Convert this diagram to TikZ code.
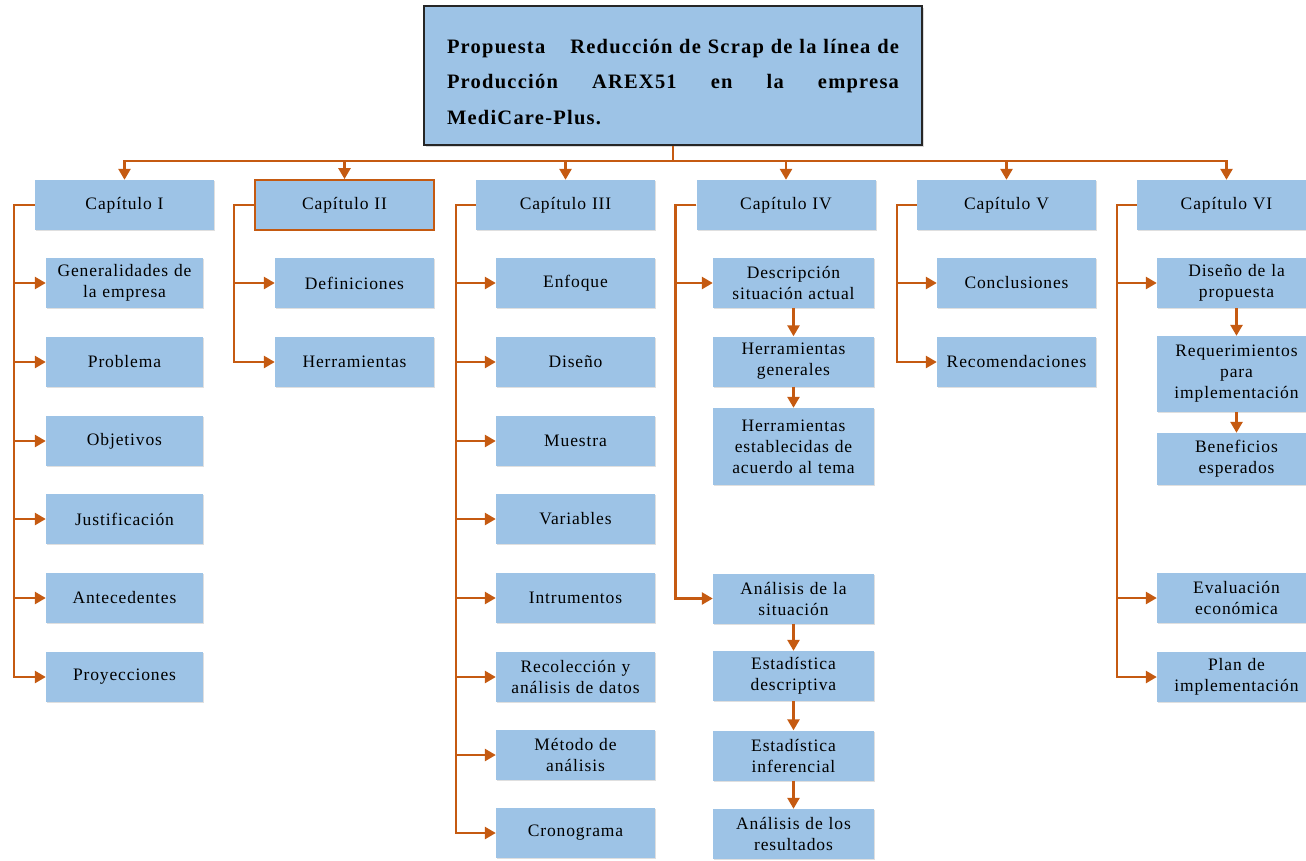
\documentclass[tikz,border=0pt]{standalone}
\usepackage{fontspec}
\setmainfont{Liberation Serif}
\newfontfamily\boxfont{Liberation Serif}[LetterSpace=5]
\newfontfamily\titlefont{Liberation Serif}[LetterSpace=6]
\usetikzlibrary{arrows.meta,shadows}
\definecolor{boxblue}{RGB}{157,195,230}
\definecolor{linkorange}{RGB}{197,90,17}
\newcommand{\titleline}[1]{\makebox[452pt][l]{#1}}
\tikzset{
  box/.style={rectangle, fill=boxblue, inner sep=0pt, align=center,
    font=\boxfont\fontsize{17.5}{21}\selectfont,
    drop shadow={shadow xshift=1pt, shadow yshift=-1.2pt, opacity=0.25}},
  chapbox/.style={box, text width=179pt, minimum height=50pt},
  leafbox/.style={box, text width=159pt, minimum height=50pt},
  rootbox/.style={rectangle, fill=boxblue, draw=black!85, line width=1.8pt,
    minimum width=498pt, minimum height=139pt, text width=452pt, align=left,
    inner sep=0pt, font=\titlefont\bfseries\fontsize{20.5}{35.5}\selectfont,
    drop shadow={shadow xshift=1.5pt, shadow yshift=-1.5pt, opacity=0.3}},
  link/.style={draw=linkorange, line width=2.6pt,
    -{Triangle[length=11pt,width=12pt]}},
}
\begin{document}
\begin{tikzpicture}[x=1pt,y=-1pt]
\useasboundingbox (0,0) rectangle (1306,860);
\clip (0,0) rectangle (1306,860);

% title
\node[rootbox] (root) at (673,75.5) {%
  \titleline{\rule{0pt}{27pt}Propuesta\hfill Reducción de Scrap de la línea de}\\
  \titleline{Producción\hfill AREX51\hfill en\hfill la\hfill empresa}\\
  \titleline{MediCare-Plus.}};

% chapters
\node[chapbox] (c1) at (124.5,205) {Capítulo I};
\node[chapbox, draw=linkorange, line width=1.8pt] (c2) at (344.5,205) {Capítulo II};
\node[chapbox] (c3) at (565.5,205) {Capítulo III};
\node[chapbox] (c4) at (786,205) {Capítulo IV};
\node[chapbox] (c5) at (1006.5,205) {Capítulo V};
\node[chapbox] (c6) at (1226.5,205) {Capítulo VI};

% chapter I
\begin{scope}[every node/.append style={leafbox, text width=157pt}]
\node (c1a) at (124.5,283) {Generalidades de\\la empresa};
\node (c1b) at (124.5,362) {Problema};
\node (c1c) at (124.5,441) {Objetivos};
\node (c1d) at (124.5,519) {Justificación};
\node (c1e) at (124.5,598) {Antecedentes};
\node (c1f) at (124.5,677) {Proyecciones};
\end{scope}

% chapter II
\node[leafbox] (c2a) at (354.5,283) {Definiciones};
\node[leafbox] (c2b) at (354.5,362) {Herramientas};

% chapter III
\node[leafbox] (c3a) at (575.5,283) {Enfoque};
\node[leafbox] (c3b) at (575.5,362) {Diseño};
\node[leafbox] (c3c) at (575.5,441) {Muestra};
\node[leafbox] (c3d) at (575.5,519) {Variables};
\node[leafbox] (c3e) at (575.5,598) {Intrumentos};
\node[leafbox] (c3f) at (575.5,677) {Recolección y\\análisis de datos};
\node[leafbox] (c3g) at (575.5,755) {Método de\\análisis};
\node[leafbox] (c3h) at (575.5,833) {Cronograma};

% chapter IV
\begin{scope}[every node/.append style={leafbox, text width=161pt}]
\node (c4a) at (793.5,283) {Descripción\\situación actual};
\node (c4b) at (793.5,361.5) {Herramientas\\generales};
\node[minimum height=77pt] (c4c) at (793.5,446.5) {Herramientas\\establecidas de\\acuerdo al tema};
\node (c4d) at (793.5,598.5) {Análisis de la\\situación};
\node (c4e) at (793.5,676) {Estadística\\descriptiva};
\node (c4f) at (793.5,755.5) {Estadística\\inferencial};
\node (c4g) at (793.5,834) {Análisis de los\\resultados};
\end{scope}

% chapter V
\node[leafbox] (c5a) at (1016.5,283) {Conclusiones};
\node[leafbox] (c5b) at (1016.5,362) {Recomendaciones};

% chapter VI
\node[leafbox] (c6a) at (1236.5,283) {Diseño de la\\propuesta};
\node[leafbox, minimum height=76pt] (c6b) at (1236.5,374) {Requerimientos\\para\\implementación};
\node[leafbox, minimum height=52pt] (c6c) at (1236.5,459) {Beneficios\\esperados};
\node[leafbox] (c6d) at (1236.5,598) {Evaluación\\económica};
\node[leafbox] (c6e) at (1236.5,677) {Plan de\\implementación};

% title to chapters
\foreach \c in {c1,c2,c3,c4,c5,c6}
  \draw[link] (root.south) -- ++(0,15) -| (\c.north);

% chapter spines
\foreach \k in {a,b,c,d,e,f}
  \draw[link] (c1.west) -- ++(-21,0) |- (c1\k.west);
\foreach \k in {a,b}
  \draw[link] (c2.west) -- ++(-20,0) |- (c2\k.west);
\foreach \k in {a,b,c,d,e,f,g,h}
  \draw[link] (c3.west) -- ++(-20,0) |- (c3\k.west);
\foreach \k in {a,d}
  \draw[link] (c4.west) -- ++(-21,0) |- (c4\k.west);
\foreach \k in {a,b}
  \draw[link] (c5.west) -- ++(-20,0) |- (c5\k.west);
\foreach \k in {a,d,e}
  \draw[link] (c6.west) -- ++(-20,0) |- (c6\k.west);

% sequences inside chapters IV and VI
\draw[link] (c4a.south) -- (c4b.north);
\draw[link] (c4b.south) -- (c4c.north);
\draw[link] (c4d.south) -- (c4e.north);
\draw[link] (c4e.south) -- (c4f.north);
\draw[link] (c4f.south) -- (c4g.north);
\draw[link] (c6a.south) -- (c6b.north);
\draw[link] (c6b.south) -- (c6c.north);
\end{tikzpicture}
\end{document}
